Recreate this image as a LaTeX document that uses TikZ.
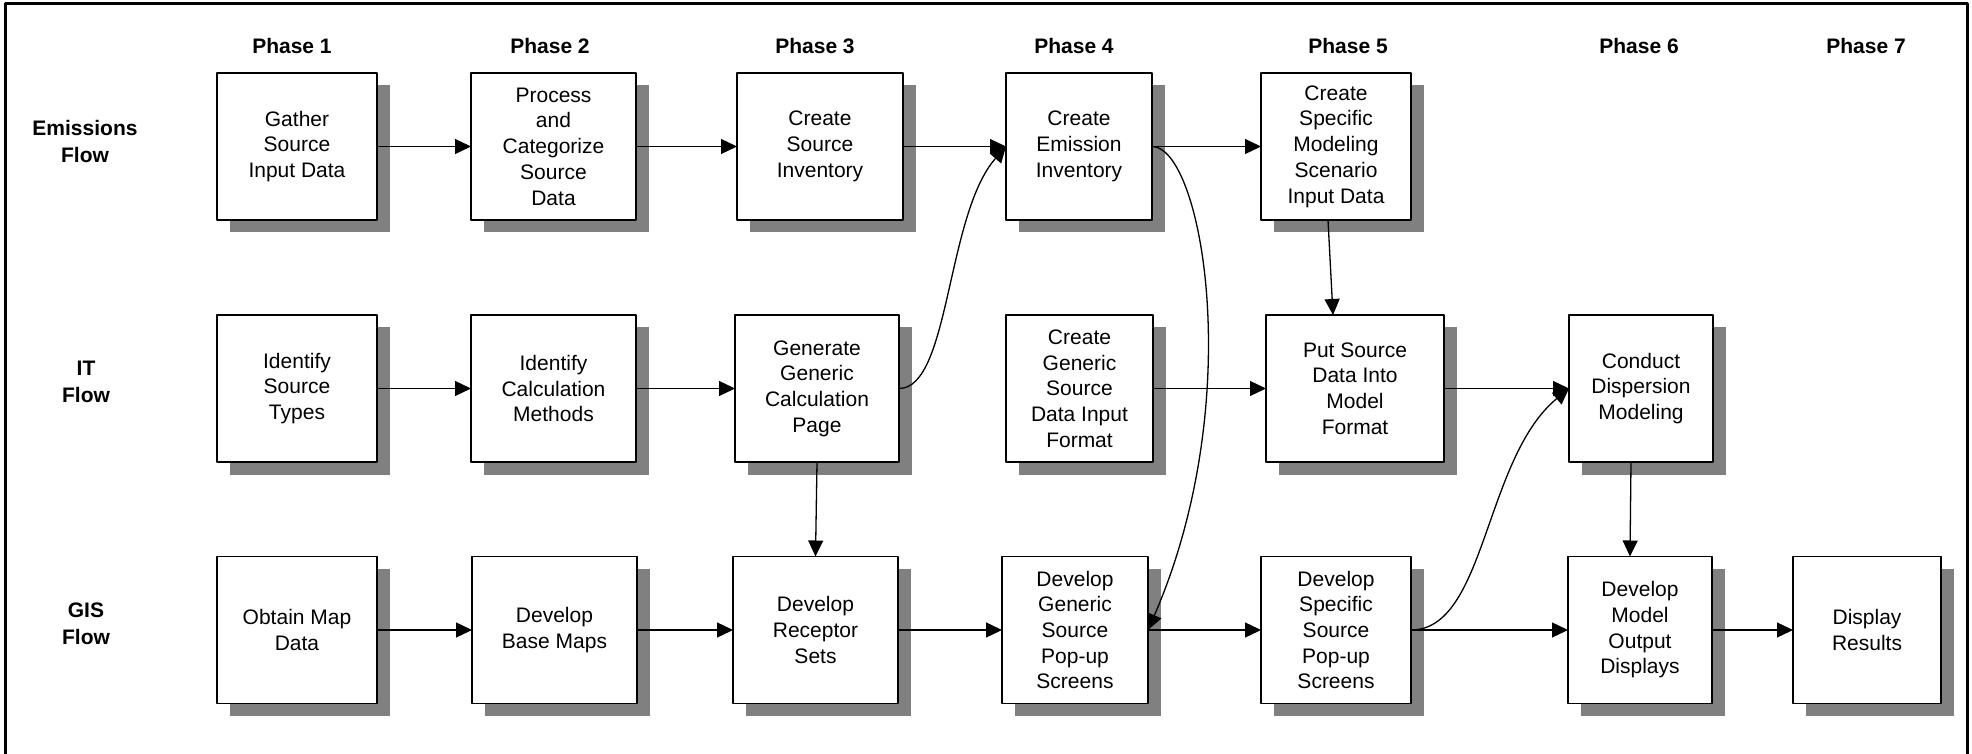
\documentclass[tikz,border=0pt]{standalone}
\usepackage{fontspec}
\setmainfont{Liberation Sans}
\usetikzlibrary{arrows.meta,shadows}
\definecolor{shadowgray}{RGB}{128,128,128}
\begin{document}
\begin{tikzpicture}[x=0.5pt,y=-0.5pt,line join=round,>={Triangle[length=8pt,width=7.5pt]},
	box/.style={draw,line width=0.9pt,fill=white,align=center,minimum height=73.5pt,outer sep=0pt,inner sep=2pt,
		font=\fontsize{10.5}{12.85}\selectfont,
		drop shadow={shadow xshift=6.25pt,shadow yshift=-6.25pt,fill=shadowgray,opacity=1}},
	phase/.style={font=\fontsize{10.5}{13.5}\selectfont\bfseries,align=center},
	flow/.style={->,line width=0.65pt}]
		\useasboundingbox (0,0) rectangle (1972,754);
		\draw[line width=1.5pt] (5,770) -- (5,4) -- (1967,4) -- (1967,770);
		\foreach \x [count=\i] in {292,550,815,1074,1348,1639,1866}
			\node[phase] (ph\i) at (\x,46) {Phase \i};
		\node[phase] (emisflow) at (85,141) {Emissions\\Flow};
		\node[phase] (itflow) at (86,382) {IT\\Flow};
		\node[phase] (gisflow) at (86,624) {GIS\\Flow};
		\node[box,minimum width=80pt] (gather) at (297,146.5) {Gather\\Source\\Input Data};
		\node[box,minimum width=82.5pt] (process) at (553.5,146.5) {Process\\and\\Categorize\\Source\\Data};
		\node[box,minimum width=83pt] (srcinv) at (820,146.5) {Create\\Source\\Inventory};
		\node[box,minimum width=73pt] (emisinv) at (1079,146.5) {Create\\Emission\\Inventory};
		\node[box,minimum width=75pt] (cspecific) at (1336,146.5) {Create\\Specific\\Modeling\\Scenario\\Input Data};
		\node[box,minimum width=80pt] (idsource) at (297,388.5) {Identify\\Source\\Types};
		\node[box,minimum width=82.5pt] (idcalc) at (553.5,388.5) {Identify\\Calculation\\Methods};
		\node[box,minimum width=82pt] (gencalc) at (817,388.5) {Generate\\Generic\\Calculation\\Page};
		\node[box,minimum width=73.5pt] (cgeneric) at (1079.5,388.5) {Create\\Generic\\Source\\Data Input\\Format};
		\node[box,minimum width=89pt] (putsource) at (1355,388.5) {Put Source\\Data Into\\Model\\Format};
		\node[box,minimum width=72pt] (conduct) at (1641,388.5) {Conduct\\Dispersion\\Modeling};
		\node[box,minimum width=80pt] (obtain) at (297,630) {Obtain Map\\Data};
		\node[box,minimum width=82.5pt] (basemaps) at (554.5,630) {Develop\\Base Maps};
		\node[box,minimum width=82.5pt] (receptor) at (815.5,630) {Develop\\Receptor\\Sets};
		\node[box,minimum width=73pt] (dgeneric) at (1075,630) {Develop\\Generic\\Source\\Pop-up\\Screens};
		\node[box,minimum width=75pt] (dspecific) at (1336,630) {Develop\\Specific\\Source\\Pop-up\\Screens};
		\node[box,minimum width=72pt] (dmodel) at (1640,630) {Develop\\Model\\Output\\Displays};
		\node[box,minimum width=74pt] (display) at (1867,630) {Display\\Results};
		\draw[flow] (gather) -- (process);
		\draw[flow] (process) -- (srcinv);
		\draw[flow] (srcinv) -- (emisinv);
		\draw[flow] (emisinv) -- (cspecific);
		\draw[flow] (idsource) -- (idcalc);
		\draw[flow] (idcalc) -- (gencalc);
		\draw[flow] (cgeneric) -- (putsource);
		\draw[flow] (putsource) -- (conduct);
		\draw[flow] (obtain) -- (basemaps);
		\draw[flow] (basemaps) -- (receptor);
		\draw[flow] (receptor) -- (dgeneric);
		\draw[flow] (dgeneric) -- (dspecific);
		\draw[flow] (dspecific) -- (dmodel);
		\draw[flow] (dmodel) -- (display);
		\draw[flow] (gencalc.south) -- (receptor.north);
		\draw[flow] ([xshift=-4pt]cspecific.south) -- ([xshift=-11pt]putsource.north);
		\draw[flow] ([xshift=-5pt]conduct.south) -- ([xshift=-5pt]dmodel.north);
		\draw[flow] (gencalc.east) .. controls +(51,0) and +(-60,68) .. (emisinv.west);
		\draw[flow] (emisinv.east) .. controls +(50,0) and +(100,-230) .. (dgeneric.east);
		\draw[flow] (dspecific.east) .. controls +(75,0) and +(-85,70) .. (conduct.west);
\end{tikzpicture}
\end{document}
